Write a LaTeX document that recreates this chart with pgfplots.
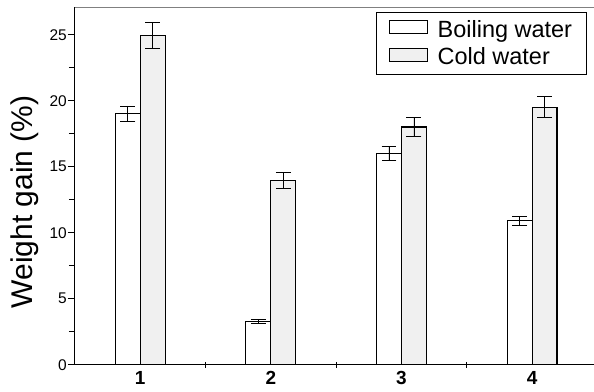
\documentclass[border=0pt]{standalone}
\usepackage{fontspec}
\setmainfont{Liberation Sans}
\usepackage{pgfplots}
\pgfplotsset{compat=1.18}
\begin{document}
\begin{tikzpicture}
\begin{axis}[
  scale only axis,
  width=519pt, height=358pt,
  xmin=0.5, xmax=4.47,
  ymin=0, ymax=27.1,
  ybar=0pt, bar width=25pt,
  axis x line*=bottom, axis y line*=left,
  axis line style={black, line width=1pt},
  xtick={1,2,3,4},
  xticklabels={\textbf{1},\textbf{2},\textbf{3},\textbf{4}},
  x tick label style={font=\fontsize{19}{21}\selectfont\bfseries},
  major x tick style={draw=none},
  minor xtick={1.5,2.5,3.5},
  minor x tick style={black, line width=0.8pt},
  xtick align=center,
  minor tick length=6pt,
  ytick={0,5,10,15,20,25},
  minor y tick num=1,
  ytick align=outside,
  y tick style={black, line width=0.8pt},
  major tick length=7pt,
  y tick label style={font=\fontsize{15.5}{17}\selectfont, anchor=east, inner sep=2pt, xshift=1pt},
  /pgf/number format/assume math mode=true,
  ylabel={Weight gain (\%)},
  ylabel style={font=\fontsize{30}{32}\selectfont, at={(rel axis cs:0,0.455)}, anchor=center, rotate=0, yshift=50pt},
  legend style={at={(0.9865,0.9865)}, anchor=north east, draw=black, line width=0.8pt,
    font=\fontsize{23.5}{26}\selectfont, row sep=5pt, inner xsep=12pt, inner ysep=6pt},
  legend cell align=left,
  legend image code/.code={\draw[#1, line width=0.8pt, /pgfplots/bar shift=0pt] (0pt,-4pt) rectangle (38pt,9pt); \path (46pt,0pt);},
  clip=false,
]
\draw[gray, line width=0.8pt] (rel axis cs:0,1) -- (rel axis cs:1,1);
\path (rel axis cs:0,0) ++(-75pt,-27pt) (rel axis cs:1,1) ++(0pt,7pt);
\addplot[draw=black, line width=1.2pt, fill=white,
  error bars/.cd, y dir=both, y explicit,
  error bar style={line width=0.8pt, black},
  error mark options={rotate=90, mark size=7.5pt, line width=0.8pt, black}]
  coordinates {(1,19) +- (0,0.6) (2,3.3) +- (0,0.15) (3,16) +- (0,0.5) (4,10.9) +- (0,0.35)};
\addlegendentry{Boiling water}
\addplot[draw=black, line width=1.2pt, fill=gray!12,
  error bars/.cd, y dir=both, y explicit,
  error bar style={line width=0.8pt, black},
  error mark options={rotate=90, mark size=7.5pt, line width=0.8pt, black}]
  coordinates {(1,24.95) +- (0,1.0) (2,13.95) +- (0,0.6) (3,18) +- (0,0.7) (4,19.5) +- (0,0.8)};
\addlegendentry{Cold water}
\end{axis}
\end{tikzpicture}
\end{document}
